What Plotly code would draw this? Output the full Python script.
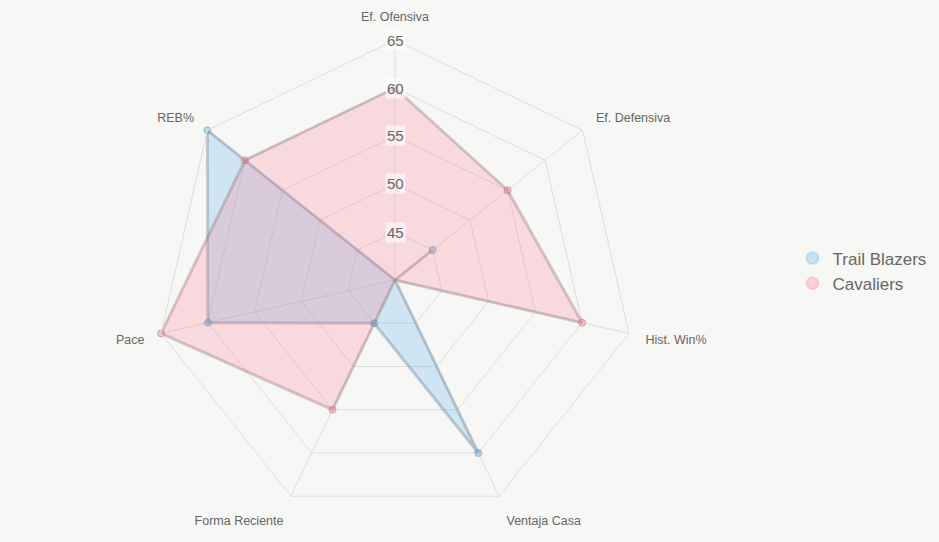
import plotly.graph_objects as go

categories = ["Ef. Ofensiva", "Ef. Defensiva", "Hist. Win%", "Ventaja Casa",
              "Forma Reciente", "Pace", "REB%"]
trail_blazers = [40, 45, 40, 60, 45, 60, 65]
cavaliers = [60, 55, 60, 40, 55, 65, 60]
tick_vals = [45, 50, 55, 60, 65]
r_min, r_max = 40, 65

W, H = 939, 542
cx_px, cy_px, rad_px = 395, 280, 240
xdom = [(cx_px - rad_px) / W, (cx_px + rad_px) / W]
ydom = [(H - (cy_px + rad_px)) / H, (H - (cy_px - rad_px)) / H]

font_fam = "Liberation Sans, Arial, sans-serif"

def closed(v):
    return v + v[:1]

fig = go.Figure()
fig.add_trace(go.Scatterpolar(
    r=closed(trail_blazers), theta=closed(categories), name="Trail Blazers",
    mode="lines+markers", fill="toself",
    fillcolor="rgba(54,162,235,0.2)",
    line=dict(color="rgba(110,130,150,0.38)", width=3),
    marker=dict(size=7, color="rgba(54,162,235,0.35)",
                line=dict(color="rgba(110,130,150,0.5)", width=1)),
    showlegend=False, hoverinfo="skip"))
fig.add_trace(go.Scatterpolar(
    r=closed(cavaliers), theta=closed(categories), name="Cavaliers",
    mode="lines+markers", fill="toself",
    fillcolor="rgba(255,99,132,0.2)",
    line=dict(color="rgba(150,120,130,0.38)", width=3),
    marker=dict(size=7, color="rgba(255,99,132,0.35)",
                line=dict(color="rgba(150,120,130,0.5)", width=1)),
    showlegend=False, hoverinfo="skip"))

# legend-only entries (circle markers)
fig.add_trace(go.Scatterpolar(r=[None], theta=[categories[0]], name="Trail Blazers",
    mode="markers", marker=dict(size=15, color="rgba(54,162,235,0.25)",
    line=dict(color="rgba(54,162,235,0.2)", width=1)), showlegend=True))
fig.add_trace(go.Scatterpolar(r=[None], theta=[categories[0]], name="Cavaliers",
    mode="markers", marker=dict(size=15, color="rgba(255,99,132,0.25)",
    line=dict(color="rgba(255,99,132,0.2)", width=1)), showlegend=True))

annotations = []
cyp = (ydom[0] + ydom[1]) / 2
ry = (ydom[1] - ydom[0]) / 2
for v in tick_vals:
    annotations.append(dict(
        x=(xdom[0] + xdom[1]) / 2, y=cyp + (v - r_min) / (r_max - r_min) * ry,
        xref="paper", yref="paper", text=str(v), showarrow=False,
        font=dict(size=15, color="#666", family=font_fam),
        bgcolor="rgba(255,255,255,0.6)", borderpad=1,
        xanchor="center", yanchor="middle"))

fig.update_layout(
    width=W, height=H,
    margin=dict(l=0, r=0, t=0, b=0),
    paper_bgcolor="#f7f7f5", plot_bgcolor="#f7f7f5",
    font=dict(family=font_fam, color="#666"),
    polar=dict(
        domain=dict(x=xdom, y=ydom),
        bgcolor="rgba(0,0,0,0)",
        gridshape="linear",
        radialaxis=dict(range=[r_min, r_max], tickvals=tick_vals,
                        showticklabels=False, ticks="", showline=False,
                        gridcolor="#dedede", gridwidth=1, angle=90),
        angularaxis=dict(rotation=90, direction="clockwise",
                         gridcolor="#dedede", linecolor="#dedede", linewidth=1,
                         ticks="outside", ticklen=14, tickcolor="rgba(0,0,0,0)",
                         tickfont=dict(size=12.5, color="#666", family=font_fam)),
    ),
    legend=dict(x=0.844, y=0.5, xanchor="left", yanchor="middle",
                font=dict(size=17, color="#666", family=font_fam),
                bgcolor="rgba(0,0,0,0)", itemsizing="constant",
                tracegroupgap=4),
    annotations=annotations,
)

fig.write_html("out.html")
